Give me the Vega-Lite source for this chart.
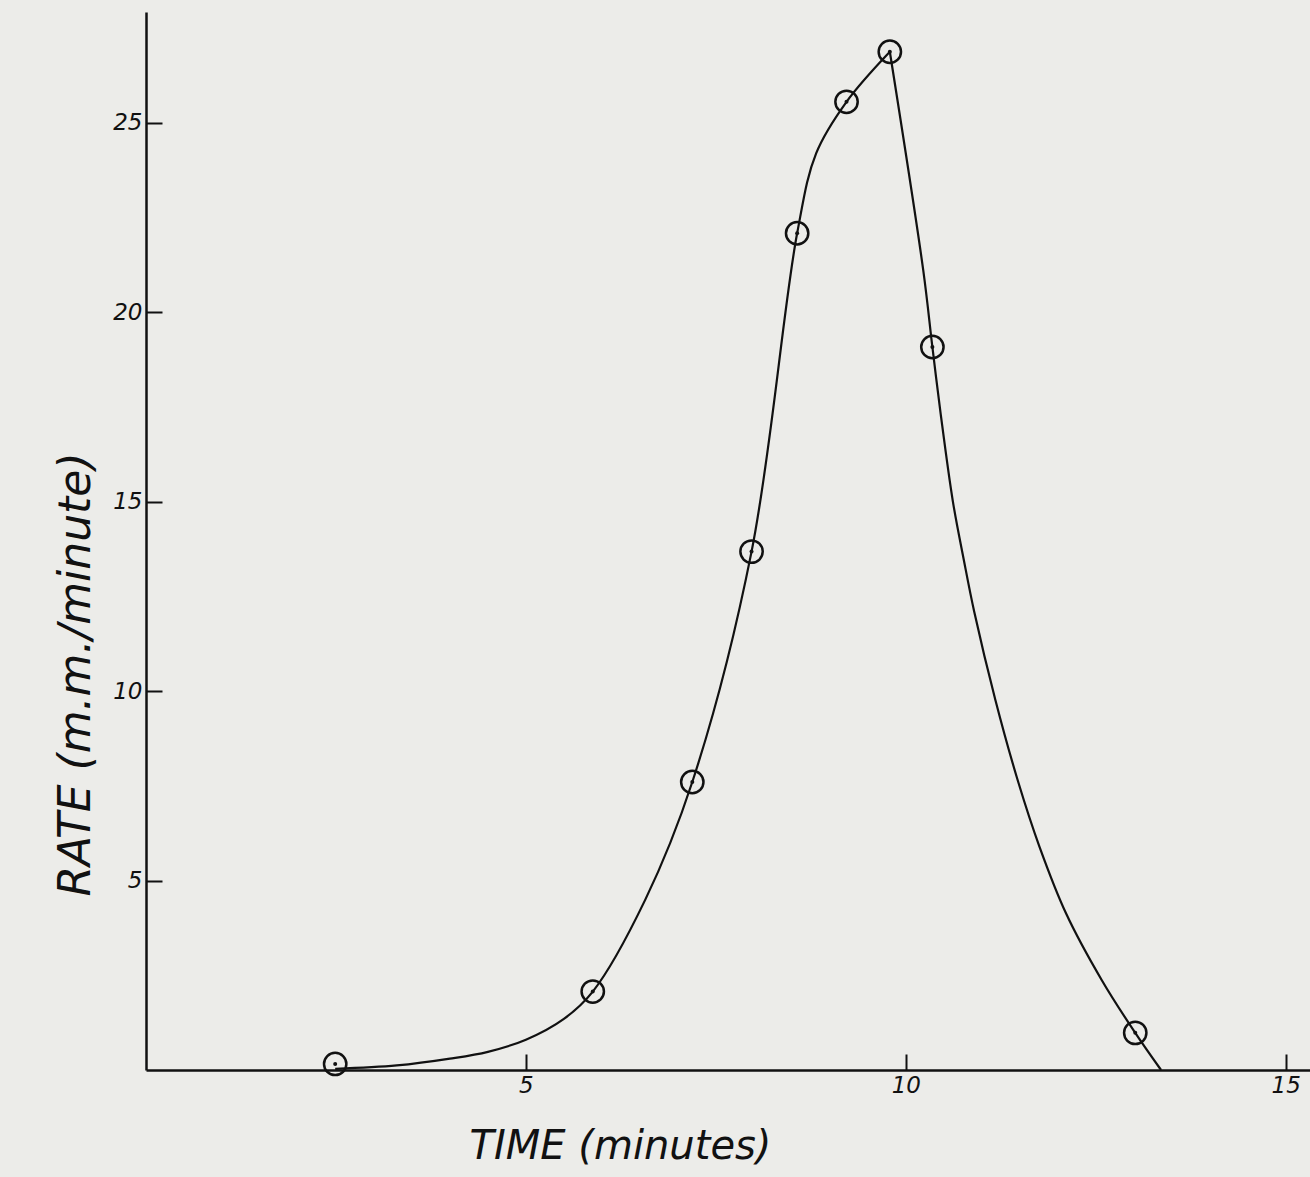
{
  "$schema": "https://vega.github.io/schema/vega-lite/v6.json",
  "width": 1164,
  "height": 1058,
  "autosize": {"type": "none"},
  "padding": {"left": 146, "top": 12, "right": 0, "bottom": 107},
  "background": "#ecece9",
  "config": {
    "view": {"stroke": null},
    "axis": {
      "grid": false,
      "domainColor": "#111111",
      "domainWidth": 2.5,
      "tickColor": "#111111",
      "tickWidth": 2,
      "tickSize": -16,
      "labelColor": "#111111",
      "labelFont": "DejaVu Sans",
      "labelFontStyle": "italic",
      "labelFontSize": 23,
      "titleColor": "#111111",
      "titleFont": "DejaVu Sans",
      "titleFontStyle": "italic",
      "titleFontWeight": "normal"
    }
  },
  "datasets": {
    "obs": [
      {"time": 2.49, "rate": 0.16},
      {"time": 5.88, "rate": 2.07},
      {"time": 7.19, "rate": 7.6},
      {"time": 7.97, "rate": 13.68},
      {"time": 8.57, "rate": 22.08},
      {"time": 9.22, "rate": 25.55},
      {"time": 9.79, "rate": 26.87},
      {"time": 10.35, "rate": 19.08},
      {"time": 13.02, "rate": 0.98}
    ],
    "curve": [
      {"seg": "rise", "time": 2.49, "rate": 0.03},
      {"seg": "rise", "time": 3.3, "rate": 0.12},
      {"seg": "rise", "time": 4.0, "rate": 0.3},
      {"seg": "rise", "time": 4.5, "rate": 0.48},
      {"seg": "rise", "time": 5.0, "rate": 0.8},
      {"seg": "rise", "time": 5.5, "rate": 1.35},
      {"seg": "rise", "time": 5.88, "rate": 2.07},
      {"seg": "rise", "time": 6.57, "rate": 4.49},
      {"seg": "rise", "time": 7.19, "rate": 7.6},
      {"seg": "rise", "time": 7.97, "rate": 13.68},
      {"seg": "rise", "time": 8.57, "rate": 22.08},
      {"seg": "rise", "time": 8.82, "rate": 24.19},
      {"seg": "rise", "time": 9.22, "rate": 25.55},
      {"seg": "rise", "time": 9.79, "rate": 26.87},
      {"seg": "fall", "time": 9.79, "rate": 26.87},
      {"seg": "fall", "time": 10.23, "rate": 21.1},
      {"seg": "fall", "time": 10.35, "rate": 19.08},
      {"seg": "fall", "time": 10.46, "rate": 17.3},
      {"seg": "fall", "time": 10.62, "rate": 15.0},
      {"seg": "fall", "time": 10.76, "rate": 13.5},
      {"seg": "fall", "time": 10.9, "rate": 12.1},
      {"seg": "fall", "time": 11.18, "rate": 9.76},
      {"seg": "fall", "time": 11.48, "rate": 7.6},
      {"seg": "fall", "time": 11.76, "rate": 5.89},
      {"seg": "fall", "time": 12.11, "rate": 4.13},
      {"seg": "fall", "time": 12.58, "rate": 2.37},
      {"seg": "fall", "time": 13.02, "rate": 0.98},
      {"seg": "fall", "time": 13.36, "rate": 0.0}
    ]
  },
  "encoding": {
    "x": {
      "field": "time",
      "type": "quantitative",
      "scale": {"domain": [0, 15.32], "nice": false, "zero": false},
      "axis": {
        "title": "TIME   (minutes)",
        "titleFontSize": 40,
        "values": [5, 10, 15],
        "labelPadding": 20,
        "labelBaseline": "top",
        "titleX": 474,
        "titleY": 88,
        "titleBaseline": "alphabetic",
        "titleAnchor": null,
        "titleAlign": "center"
      }
    },
    "y": {
      "field": "rate",
      "type": "quantitative",
      "scale": {"domain": [0, 27.92], "nice": false, "zero": false},
      "axis": {
        "title": "RATE   (m.m./minute)",
        "titleFontSize": 44,
        "values": [5, 10, 15, 20, 25],
        "labelPadding": 20,
        "titleX": -70,
        "titleY": 662,
        "titleAngle": -90,
        "titleAlign": "center",
        "titleBaseline": "middle",
        "titleAnchor": null
      }
    }
  },
  "layer": [
    {
      "data": {"name": "curve"},
      "mark": {"type": "line", "interpolate": "catmull-rom", "stroke": "#111111", "strokeWidth": 2.2},
      "encoding": {"detail": {"field": "seg", "type": "nominal"}}
    },
    {
      "data": {"name": "obs"},
      "mark": {"type": "point", "shape": "circle", "filled": false, "stroke": "#111111", "strokeWidth": 2.5, "size": 500, "opacity": 1}
    },
    {
      "data": {"name": "obs"},
      "mark": {"type": "point", "shape": "circle", "filled": true, "fill": "#111111", "size": 16, "opacity": 1}
    }
  ]
}
